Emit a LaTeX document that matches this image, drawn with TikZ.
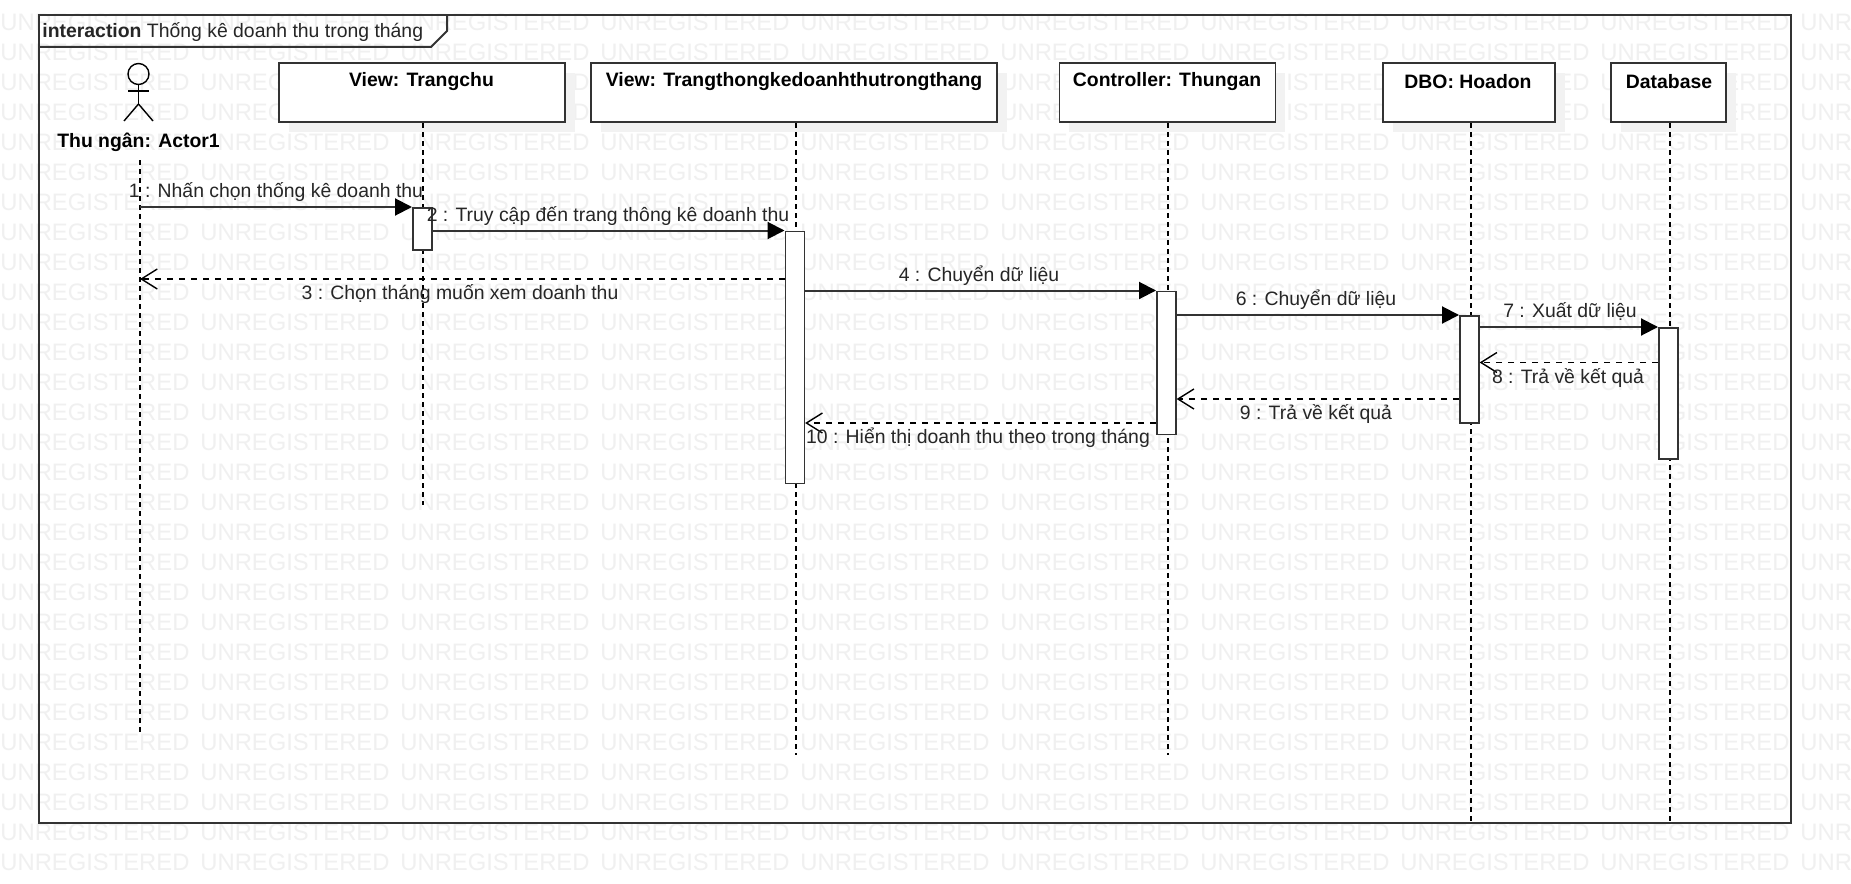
\documentclass[tikz,border=0pt]{standalone}
\usepackage{fontspec}
\setmainfont{Liberation Sans}
\usetikzlibrary{arrows.meta,shadows}

\definecolor{markgray}{HTML}{F0F0F0}
\definecolor{shadegray}{HTML}{F2F2F2}
\definecolor{linegray}{HTML}{333333}
\tikzset{
  header/.style={draw=linegray, line width=0.8pt, fill=white, anchor=north west, inner sep=0pt, minimum height=29.5pt,
    general shadow={fill=shadegray, shadow xshift=5pt, shadow yshift=-5pt}},
  headertext/.style={font=\fontsize{9.7}{11}\selectfont\bfseries, text=black},
  bar/.style={draw=linegray, line width=0.8pt, fill=white, anchor=north west, inner sep=0pt, minimum width=9.5pt},
  lifeline/.style={dash pattern=on 2.5pt off 2pt, line width=0.6pt, black},
  msg/.style={line width=1pt, draw=linegray, -{Triangle[length=8.5pt,width=8.5pt,color=black]}},
  reply/.style={line width=0.7pt, draw=black, dashed, -{Straight Barb[length=8pt,width=10pt]}},
  msgtext/.style={font=\fontsize{9.7}{11}\selectfont, text=black!85, inner sep=0pt},
  watermark/.style={font=\fontsize{11.9}{14}\selectfont, text=markgray, anchor=west, inner sep=0pt}
}

\begin{document}
\begin{tikzpicture}[x=0.5pt,y=-0.5pt]
\useasboundingbox (0,0) rectangle (1851,883);
\fill[white] (0,0) rectangle (1851,883);

% watermark
\foreach \row in {0,...,28} {
  \foreach \col in {0,...,9} {
    \node[watermark] at ({\col*200},{22+\row*30}) {UNREGISTERED};
  }
}

% frame
\draw[linegray, line width=1pt] (39,15) rectangle (1791,823);
\draw[linegray, line width=1pt] (39,47) -- (431,47) -- (447,31) -- (447,15);
\node[anchor=west, inner sep=0pt, font=\fontsize{9.7}{11}\selectfont, text=black!85] (title) at (42,32) {\textbf{interaction} Thống kê doanh thu trong tháng};

% actor
\draw[black, line width=0.7pt] (138.5,74) circle (10.5);
\draw[black, line width=0.7pt] (138.5,84.5) -- (138.5,104);
\draw[black, line width=0.7pt] (128,91) -- (149,91);
\draw[black, line width=0.7pt] (124,121) -- (138.5,104) -- (153,121);
\node[headertext] (actor) at (138.5,142.5) {Thu ngân: Actor1};

% headers
\node[header, minimum width=143pt] (trangchu) at (278,62.5) {};
\node[header, minimum width=203pt] (thongke) at (590,62.5) {};
\node[header, minimum width=108pt] (thungan) at (1058.5,62.5) {};
\node[header, minimum width=86pt] (hoadon) at (1382,62.5) {};
\node[header, minimum width=57.5pt] (database) at (1610,62.5) {};
\node[headertext] at (421.5,82) {View: Trangchu};
\node[headertext] at (794,82) {View: Trangthongkedoanhthutrongthang};
\node[headertext] at (1167,82) {Controller: Thungan};
\node[headertext] at (1468,82) {DBO: Hoadon};
\node[headertext] at (1669,82) {Database};

% lifelines
\coordinate (actorend) at (140,732);
\coordinate (trangchuend) at (423,505);
\coordinate (thongkeend) at (796,755);
\coordinate (thunganend) at (1168,755);
\coordinate (hoadonend) at (1471,823);
\coordinate (databaseend) at (1670,823);
\draw[lifeline] (140,160) -- (actorend);
\draw[lifeline] (trangchu.south -| trangchuend) -- (trangchuend);
\draw[lifeline] (thongke.south -| thongkeend) -- (thongkeend);
\draw[lifeline] (thungan.south -| thunganend) -- (thunganend);
\draw[lifeline] (hoadon.south -| hoadonend) -- (hoadonend);
\draw[lifeline] (database.south -| databaseend) -- (databaseend);

% activation bars
\node[bar, minimum height=21pt] (bartrangchu) at (412,207) {};
\node[bar, minimum height=126pt] (barthongke) at (784.5,230.5) {};
\node[bar, minimum height=71.5pt] (barthungan) at (1156,290.5) {};
\node[bar, minimum height=53.5pt] (barhoadon) at (1459,315) {};
\node[bar, minimum height=65.5pt] (bardatabase) at (1658,327) {};

% messages
\draw[msg] (actorend |- bartrangchu.north) -- (bartrangchu.north west);
\draw[msg] (bartrangchu.east |- barthongke.north) -- (barthongke.north west);
\draw[msg] (barthongke.east |- barthungan.north) -- (barthungan.north west);
\draw[msg] (barthungan.east |- barhoadon.north) -- (barhoadon.north west);
\draw[msg] (barhoadon.east |- bardatabase.north) -- (bardatabase.north west);
\coordinate (y3) at (0,279);
\coordinate (y8) at (0,362.5);
\coordinate (y9) at (0,399);
\coordinate (y10) at (0,423);
\draw[reply] (barthongke.west |- y3) -- (actorend |- y3);
\draw[reply] (bardatabase.west |- y8) -- (barhoadon.east |- y8);
\draw[reply] (barhoadon.west |- y9) -- (barthungan.east |- y9);
\draw[reply] (barthungan.west |- y10) -- (barthongke.east |- y10);

% message labels
\node[msgtext] (m1) at (276,192) {1 : Nhấn chọn thống kê doanh thu};
\node[msgtext] (m2) at (608,216) {2 : Truy cập đến trang thông kê doanh thu};
\node[msgtext] (m3) at (460,294) {3 : Chọn tháng muốn xem doanh thu};
\node[msgtext] (m4) at (979,276) {4 : Chuyển dữ liệu};
\node[msgtext] (m6) at (1316,300) {6 : Chuyển dữ liệu};
\node[msgtext] (m7) at (1570,312) {7 : Xuất dữ liệu};
\node[msgtext] (m8) at (1568,378) {8 : Trả về kết quả};
\node[msgtext] (m9) at (1316,414) {9 : Trả về kết quả};
\node[msgtext] (m10) at (978,438) {10 : Hiển thị doanh thu theo trong tháng};
\end{tikzpicture}
\end{document}
